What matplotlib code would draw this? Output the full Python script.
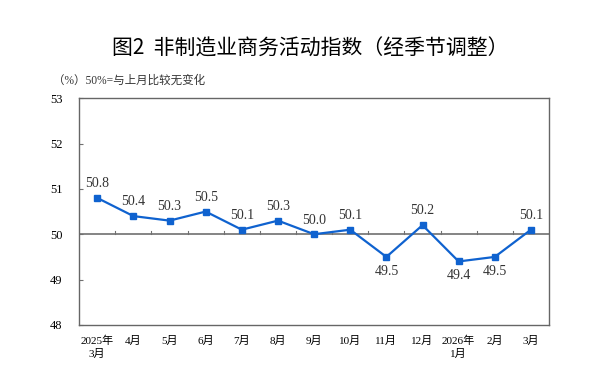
import numpy as np
import matplotlib.pyplot as plt

plt.rcParams['font.family'] = ['Liberation Serif', 'Noto Sans CJK SC', 'DejaVu Sans']

months = ['2025年\n3月', '4月', '5月', '6月', '7月', '8月', '9月', '10月',
          '11月', '12月', '2026年\n1月', '2月', '3月']
pmi = [50.8, 50.4, 50.3, 50.5, 50.1, 50.3, 50.0, 50.1, 49.5, 50.2, 49.4, 49.5, 50.1]
below = [False, False, False, False, False, False, False, False, True, False, True, True, False]

fig = plt.figure(figsize=(6, 3.85), dpi=100)
ax = fig.add_axes([0.132, 0.156, 0.783, 0.589])

x = np.arange(len(pmi))
ax.plot(x, pmi, color='#0f62cf', linewidth=1.6, marker='s', markersize=4.5, zorder=3)
ax.axhline(50, color='#707070', linewidth=1.2, zorder=2)
# 类别分隔短刻度
for xv in np.arange(0.5, len(pmi) - 1, 1):
    ax.plot([xv, xv], [50, 50.08], color='#707070', linewidth=0.8, zorder=2)

for xi, v, b in zip(x, pmi, below):
    if b:
        ax.text(xi, v - 0.17, f'{v:.1f}', ha='center', va='top', fontsize=10, color='#333333')
    else:
        ax.text(xi, v + 0.17, f'{v:.1f}', ha='center', va='bottom', fontsize=10, color='#333333')

ax.set_xlim(-0.5, len(pmi) - 0.5)
ax.set_ylim(48, 53)
ax.set_yticks([48, 49, 50, 51, 52, 53])
ax.set_xticks(x)
ax.set_xticklabels(months, fontsize=8, linespacing=1.3)
ax.tick_params(axis='x', length=0, pad=8)
ax.tick_params(axis='y', direction='in', length=3, pad=12, labelsize=9, color='#707070')
for s in ax.spines.values():
    s.set_color('#666666')
    s.set_linewidth(1.0)

fig.text(0.517, 0.873, '图2  非制造业商务活动指数（经季节调整）', ha='center', va='center',
         fontsize=15, fontweight='medium', family=['Noto Sans CJK SC'])
fig.text(0.088, 0.79, '（%）50%=与上月比较无变化', ha='left', va='center', fontsize=8.3,
         color='#333333')

fig.savefig('out.png', dpi=100)
